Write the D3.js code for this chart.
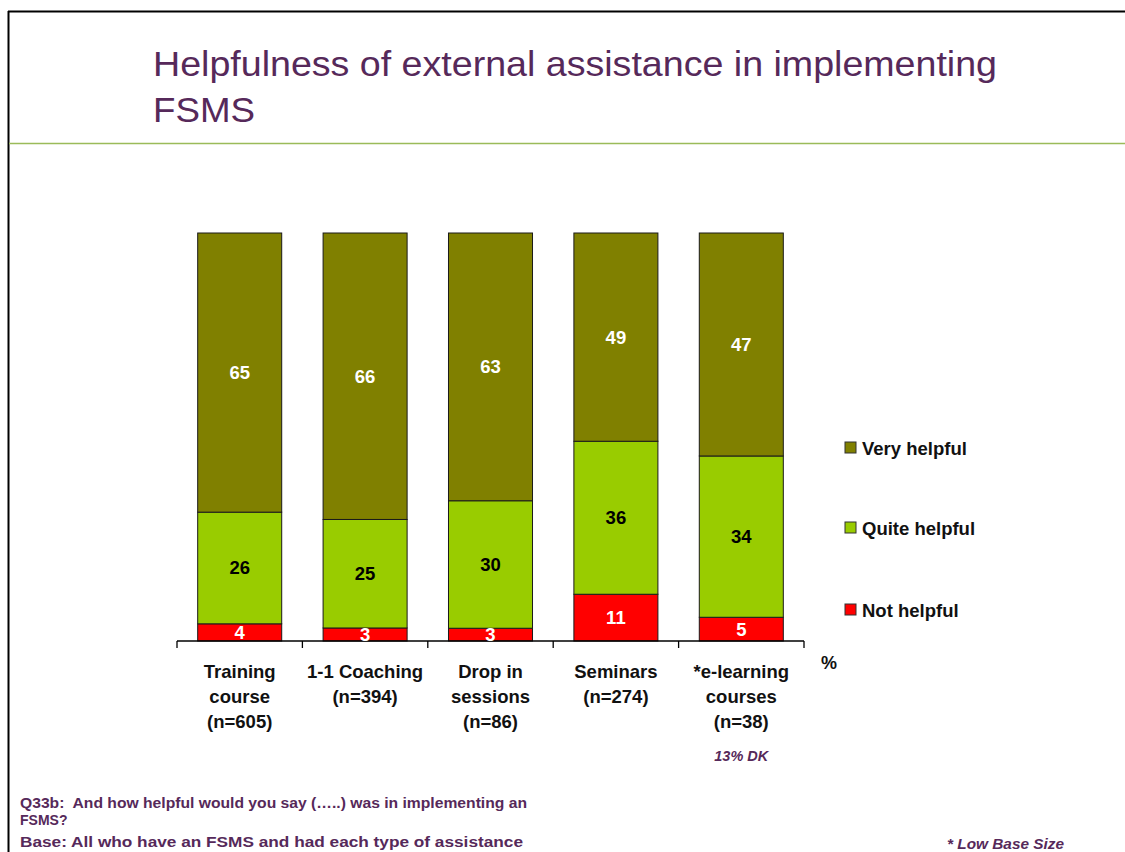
<!DOCTYPE html>
<html>
<head>
<meta charset="utf-8">
<script src="https://cdn.jsdelivr.net/npm/d3@7"></script>
<style>
  body { margin: 0; background: #fff; }
  svg { display: block; font-family: "Liberation Sans", Arial, sans-serif; }
  text { white-space: pre; }
</style>
</head>
<body>
<div id="chart"></div>
<script>
// categories and values
const categories = ["Training course", "1-1 Coaching", "Drop in sessions", "Seminars", "*e-learning courses"];
const catLines = [
  ["Training", "course", "(n=605)"],
  ["1-1 Coaching", "(n=394)"],
  ["Drop in", "sessions", "(n=86)"],
  ["Seminars", "(n=274)"],
  ["*e-learning", "courses", "(n=38)"]
];
const notHelpful = [4, 3, 3, 11, 5];
const quiteHelpful = [26, 25, 30, 36, 34];
const veryHelpful = [65, 66, 63, 49, 47];

const seriesNames = ["Not helpful", "Quite helpful", "Very helpful"];
const seriesColors = ["#ff0000", "#99cc00", "#808000"];
const labelColors = ["#fff", "#000", "#fff"];

const W = 1125, H = 852;
const margins = { top: 233, bottom: 211, left: 177, right: 321 };
const purple = "#56295a";

const svg = d3.select("#chart").append("svg").attr("width", W).attr("height", H);

// slide frame
svg.append("line").attr("x1", 8).attr("x2", W).attr("y1", 11.5).attr("y2", 11.5).attr("stroke", "#000").attr("stroke-width", 2);
svg.append("line").attr("x1", 8.5).attr("x2", 8.5).attr("y1", 11).attr("y2", H).attr("stroke", "#000").attr("stroke-width", 2);
svg.append("line").attr("x1", 9).attr("x2", W).attr("y1", 143.5).attr("y2", 143.5).attr("stroke", "#9bbb59").attr("stroke-width", 1.5);

// title (slide text is a bit wider than the font, so stretch it)
const title = svg.append("text").attr("fill", purple).attr("font-size", 34.5);
title.append("tspan").attr("x", 153).attr("y", 76).attr("textLength", 844).attr("lengthAdjust", "spacingAndGlyphs")
  .text("Helpfulness of external assistance in implementing");
title.append("tspan").attr("x", 153).attr("y", 122).attr("textLength", 102).attr("lengthAdjust", "spacingAndGlyphs")
  .text("FSMS");

// rows, each normalised to 100%
const rows = categories.map((c, i) => {
  const vals = [notHelpful[i], quiteHelpful[i], veryHelpful[i]];
  return { cat: c, vals: vals, total: d3.sum(vals) };
});

const xScale = d3.scaleBand()
  .domain(categories)
  .range([margins.left, W - margins.right])
  .paddingInner(0.33)
  .paddingOuter(0.165);

const yScale = d3.scaleLinear()
  .domain([0, 1])
  .range([H - margins.bottom, margins.top]);

const segs = [];
rows.forEach(r => {
  let acc = 0;
  r.vals.forEach((v, k) => {
    segs.push({ cat: r.cat, k: k, v: v, y0: acc / r.total, y1: (acc + v) / r.total });
    acc += v;
  });
});

svg.append("g").selectAll("rect")
  .data(segs)
  .join("rect")
  .attr("x", d => xScale(d.cat))
  .attr("width", xScale.bandwidth())
  .attr("y", d => yScale(d.y1))
  .attr("height", d => yScale(d.y0) - yScale(d.y1))
  .attr("fill", d => seriesColors[d.k])
  .attr("stroke", "#1a1a1a")
  .attr("stroke-width", 1);

// x axis with ticks between categories
const axisY = H - margins.bottom;
const tickXs = d3.range(categories.length + 1).map(i => margins.left + i * (W - margins.right - margins.left) / categories.length);
svg.append("line").attr("x1", margins.left).attr("x2", W - margins.right).attr("y1", axisY).attr("y2", axisY).attr("stroke", "#000").attr("stroke-width", 1.3);
svg.append("g").selectAll("line")
  .data(tickXs)
  .join("line")
  .attr("x1", d => d).attr("x2", d => d)
  .attr("y1", axisY).attr("y2", axisY + 7)
  .attr("stroke", "#000").attr("stroke-width", 1.3);

// value labels
svg.append("g").selectAll("text")
  .data(segs)
  .join("text")
  .attr("x", d => xScale(d.cat) + xScale.bandwidth() / 2)
  .attr("y", d => yScale((d.y0 + d.y1) / 2) + 6.5)
  .attr("text-anchor", "middle")
  .attr("font-size", 18.5)
  .attr("font-weight", "bold")
  .attr("fill", d => labelColors[d.k])
  .text(d => d.v);

// category labels
const catG = svg.append("g");
categories.forEach((c, i) => {
  const t = catG.append("text")
    .attr("text-anchor", "middle")
    .attr("font-size", 18.5)
    .attr("font-weight", "bold")
    .attr("fill", "#111");
  catLines[i].forEach((ln, j) => {
    t.append("tspan")
      .attr("x", xScale(c) + xScale.bandwidth() / 2)
      .attr("y", 678 + j * 25)
      .text(ln);
  });
});

svg.append("text").attr("x", 829).attr("y", 669).attr("text-anchor", "middle")
  .attr("font-size", 18).attr("font-weight", "bold").attr("fill", "#111").text("%");

svg.append("text").attr("x", xScale(categories[4]) + xScale.bandwidth() / 2).attr("y", 761)
  .attr("text-anchor", "middle").attr("font-size", 14.5).attr("font-weight", "bold")
  .attr("font-style", "italic").attr("fill", purple).text("13% DK");

// legend, top to bottom
const legendY = [448, 528, 610];
const legend = svg.append("g").selectAll("g")
  .data([2, 1, 0])
  .join("g")
  .attr("transform", (k, i) => `translate(845,${legendY[i]})`);
legend.append("rect").attr("x", 0).attr("y", -6).attr("width", 11).attr("height", 11)
  .attr("fill", k => seriesColors[k]).attr("stroke", "#333").attr("stroke-width", 1);
legend.append("text").attr("x", 17).attr("y", 6.5).attr("font-size", 18.5).attr("font-weight", "bold")
  .attr("fill", "#111").text(k => seriesNames[k]);

// footnotes
const foot = svg.append("text").attr("font-size", 14).attr("font-weight", "bold").attr("fill", purple);
[["Q33b:  And how helpful would you say (…..) was in implementing an", 808, 507],
 ["FSMS?", 825, null],
 ["Base: All who have an FSMS and had each type of assistance", 847, 503]].forEach(([s, y, len]) => {
  const ts = foot.append("tspan").attr("x", 20).attr("y", y).text(s);
  if (len) ts.attr("textLength", len).attr("lengthAdjust", "spacingAndGlyphs");
});

svg.append("text").attr("x", 947).attr("y", 849).attr("font-size", 14).attr("font-weight", "bold")
  .attr("font-style", "italic").attr("fill", purple)
  .attr("textLength", 117).attr("lengthAdjust", "spacingAndGlyphs").text("* Low Base Size");
</script>
</body>
</html>
